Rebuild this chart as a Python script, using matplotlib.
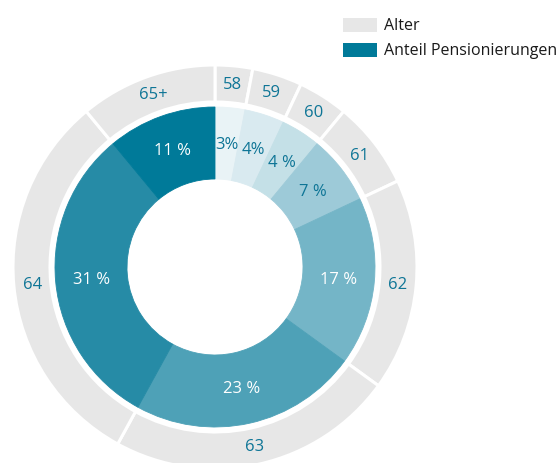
import matplotlib
matplotlib.use("Agg")
import matplotlib.pyplot as plt
from matplotlib.patches import Rectangle
import numpy as np

plt.rcParams['font.family'] = ['Open Sans', 'DejaVu Sans']

ages = ["58", "59", "60", "61", "62", "63", "64", "65+"]
shares = [3, 4, 4, 7, 17, 23, 31, 11]
share_labels = ["3%", "4%", "4 %", "7 %", "17 %", "23 %", "31 %", "11 %"]
inner_colors = ["#e9f3f6", "#d9eaf0", "#c4e0e7", "#9dcad8", "#74b5c7", "#4ea1b7", "#268ba6", "#007a99"]
label_colors = ["#0e7596", "#0e7596", "#0e7596", "#0e7596", "white", "white", "white", "white"]
legend_labels = ["Alter", "Anteil Pensionierungen"]
grey = "#e7e7e7"
teal = "#007a99"
text_teal = "#0e7596"

W, H = 560, 464
fig = plt.figure(figsize=(W / 100, H / 100), dpi=100)
ax = fig.add_axes([0, 0, 1, 1])

cx, cy = 215, H - 268
R_out, w_out = 202, 37
R_in, w_in = 160, 72

ax.pie(shares, radius=R_out, center=(cx, cy), startangle=90, counterclock=False,
       colors=[grey] * len(shares),
       wedgeprops=dict(width=w_out, edgecolor="white", linewidth=2.2))
wedges, _ = ax.pie(shares, radius=R_in, center=(cx, cy), startangle=90, counterclock=False,
                   colors=inner_colors,
                   wedgeprops=dict(width=w_in, linewidth=0.6))
for w in wedges:
    w.set_edgecolor(w.get_facecolor())

cum = np.cumsum([0] + shares)
total = cum[-1]
for i in range(len(shares)):
    mid = (cum[i] + cum[i + 1]) / 2 / total * 2 * np.pi
    r_o = R_out - w_out / 2
    r_i = R_in - w_in / 2
    ax.text(cx + r_o * np.sin(mid), cy + r_o * np.cos(mid), ages[i],
            ha="center", va="center", fontsize=12, color=text_teal)
    ax.text(cx + r_i * np.sin(mid), cy + r_i * np.cos(mid), share_labels[i],
            ha="center", va="center", fontsize=12, color=label_colors[i])

# legend
for j, (lab, col) in enumerate(zip(legend_labels, [grey, teal])):
    y0 = H - 26 - j * 25
    ax.add_patch(Rectangle((343, y0 - 7), 34, 14, facecolor=col, edgecolor="none"))
    ax.text(384, y0, lab, ha="left", va="center", fontsize=11.5, color="#1a1a1a")

ax.set_xlim(0, W)
ax.set_ylim(0, H)
ax.set_aspect("equal")
ax.axis("off")
fig.savefig("out.png", dpi=100)
